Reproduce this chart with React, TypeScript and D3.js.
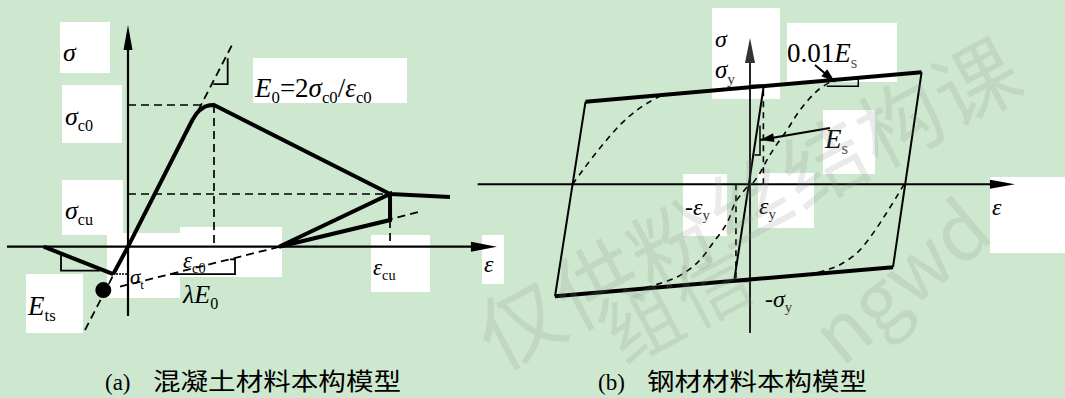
import React from "react";
import * as d3 from "d3";

type P = [number, number];

const W = 1065;
const H = 398;

// ---------- (a) concrete model: strain in εc0 units, stress in σc0 units ----------
const concreteEnvelope: P[] = [
  [-0.171, -0.193], [0, 0], [0.748, 0.894], [0.798, 0.941], [0.837, 0.965],
  [0.895, 0.988], [0.95, 0.998], [1, 1], [3.047, 0.372], [3.744, 0.35],
];
const concreteTension: P[] = [[-0.981, 0], [-0.171, -0.193]];
const concreteUnloading: P[] = [[1.756, 0], [3.047, 0.372], [3.047, 0.188]];
const concreteInitialTangent: P[] = [[-0.5, -0.588], [1.221, 1.437]];
const concreteReloadLine: P[] = [[-0.093, -0.282], [3.395, 0.247]];
const concreteGuides: P[][] = [
  [[0, 1], [1, 1]],
  [[1, 1], [1, 0]],
  [[0, 0.372], [3.047, 0.372]],
  [[3.047, 0.188], [3.047, 0]],
];
const concreteE0Tick: P[] = [[0.992, 1.148], [1.159, 1.148], [1.159, 1.33]];
const concreteLambdaTick: P[] = [[0.488, -0.193], [1.244, -0.193], [1.244, -0.089], [1.186, -0.089]];
const concreteEtsTick: P[] = [[-0.779, -0.058], [-0.779, -0.169], [-0.326, -0.169]];
const concreteSigmaT: P[] = [[-0.171, -0.193], [0, -0.193]];
const concreteCrackPoint: P = [-0.287, -0.306];
const concreteAxisX: [number, number] = [-1.407, 4.29];
const concreteAxisY: [number, number] = [-0.489, 1.565];

// ---------- (b) steel model: strain in εy units, stress in σy units ----------
const steelTop: P[] = [[-12.65, 0.842], [13.2, 1.142]];
const steelBottom: P[] = [[-15.0, -1.142], [11.0, -0.845]];
const steelSides: P[][] = [
  [[13.2, 1.142], [11.0, -0.845]],
  [[-15.0, -1.142], [-12.65, 0.842]],
];
const steelElastic: P[] = [[-1.215, -0.982], [1.054, 1.0]];
const steelYieldGuides: P[][] = [
  [[1.03, 0], [1.03, 0.96]],
  [[-1.08, 0], [-1.08, -0.98]],
];
const steelYieldTicks: P[][] = [
  [[0, 1.01], [0.95, 1.01]],
  [[-1.2, -0.99], [0, -0.99]],
];
const steelCurveA: P[] = [
  [-13.65, 0], [-12.85, 0.146], [-11.54, 0.37], [-10.0, 0.605], [-8.69, 0.758], [-7.69, 0.843], [-6.77, 0.911],
];
const steelCurveB: P[] = [
  [-0.23, -0.028], [-0.54, -0.079], [-1.15, -0.191], [-1.77, -0.395], [-2.85, -0.599],
  [-4.08, -0.803], [-5.62, -0.946], [-7.31, -1.027], [-8.08, -1.054],
];
const steelCurveC: P[] = [
  [0.23, 0.013], [0.77, 0.115], [1.31, 0.248], [1.92, 0.38], [2.85, 0.553], [3.85, 0.757], [5.23, 0.961], [6.31, 1.053],
];
const steelCurveD: P[] = [
  [11.85, 0], [11.4, -0.1], [10.51, -0.29], [9.46, -0.5], [8.23, -0.7], [6.92, -0.82], [6.0, -0.87], [5.0, -0.91],
];
const steelEsTick: P[] = [[0.346, 0.299], [0.769, 0.299], [0.769, 0.6]];
const steelHardTick: P[] = [[5.9, 1.0], [8.33, 1.0], [8.33, 1.08]];
const steelEsArrow: [P, P] = [[6.15, 0.574], [0.77, 0.452]];
const steelHardArrow: [P, P] = [[5.0, 1.216], [6.54, 1.046]];
const steelAxisX: [number, number] = [-20.95, 20.38];
const steelAxisY: [number, number] = [-1.516, 1.491];

// watermark text
const watermarkMain: string[] = Array.from("仅供粉丝结构课");
const watermarkSecond: string[] = Array.from("组信");
const watermarkLatin = "ngwd";

// ---------- scales ----------
const xL = d3.scaleLinear().domain([0, 1]).range([128, 214]);
const yL = d3.scaleLinear().domain([0, 1]).range([246.7, 105]);
const xR = d3.scaleLinear().domain([0, 1]).range([750, 763]);
const yR = d3.scaleLinear().domain([0, 1]).range([184.3, 86.2]);

const lineL = d3.line<P>().x((d) => xL(d[0])).y((d) => yL(d[1]));
const lineR = d3.line<P>().x((d) => xR(d[0])).y((d) => yR(d[1]));
const curveR = d3
  .line<P>()
  .x((d) => xR(d[0]))
  .y((d) => yR(d[1]))
  .curve(d3.curveCatmullRom.alpha(0.5));

// filled arrow head with its tip at (tx, ty), pointing away from (fx, fy)
function head(tx: number, ty: number, fx: number, fy: number, len: number, half: number) {
  const dx = tx - fx;
  const dy = ty - fy;
  const n = Math.hypot(dx, dy) || 1;
  const ux = dx / n;
  const uy = dy / n;
  const bx = tx - ux * len;
  const by = ty - uy * len;
  return `${tx},${ty} ${bx - uy * half},${by + ux * half} ${bx + uy * half},${by - ux * half}`;
}

type Run = [string, string?];
const SERIF = "Liberation Serif, Times New Roman, serif";
const CJK = "Noto Sans CJK SC, sans-serif";

function Rich({ x, y, size, runs, subFill = "#000" }: { x: number; y: number; size: number; runs: Run[]; subFill?: string }) {
  const shift = size * 0.22;
  let inSub = false;
  return (
    <text x={x} y={y} style={{ fontFamily: SERIF }} fontSize={size} fill="#000">
      {runs.map(([t, k], i) => {
        const sub = k === "s";
        let dy = 0;
        if (sub && !inSub) dy = shift;
        if (!sub && inSub) dy = -shift;
        inSub = sub;
        return (
          <tspan
            key={i}
            dy={dy}
            fontSize={sub ? size * 0.62 : size}
            fontStyle={k === "i" ? "italic" : "normal"}
            fill={sub ? subFill : "#000"}
          >
            {t}
          </tspan>
        );
      })}
    </text>
  );
}

function Box({ x, y, w, h }: { x: number; y: number; w: number; h: number }) {
  return <rect x={x} y={y} width={w} height={h} fill="#fff" />;
}

export default function App() {
  const thick = 4;
  const dashL = "8,5";
  const dashR = "6,5";

  // axis ends in pixels
  const lx0 = xL(concreteAxisX[0]);
  const lx1 = xL(concreteAxisX[1]);
  const ly0 = yL(concreteAxisY[0]);
  const ly1 = yL(concreteAxisY[1]);
  const rx0 = xR(steelAxisX[0]);
  const rx1 = xR(steelAxisX[1]);
  const ry0 = yR(steelAxisY[0]);
  const ry1 = yR(steelAxisY[1]);

  const esFrom = [xR(steelEsArrow[0][0]), yR(steelEsArrow[0][1])];
  const esTo = [xR(steelEsArrow[1][0]), yR(steelEsArrow[1][1])];
  const hdFrom = [xR(steelHardArrow[0][0]), yR(steelHardArrow[0][1])];
  const hdTo = [xR(steelHardArrow[1][0]), yR(steelHardArrow[1][1])];

  // watermark glyphs laid along a rising diagonal
  const wmAngle = -28;
  const wmStep = 86;
  const wmCos = Math.cos((wmAngle * Math.PI) / 180);
  const wmSin = Math.sin((wmAngle * Math.PI) / 180);

  return (
    <div style={{ position: "absolute", left: 0, top: 0 }}>
      <svg width={W} height={H} viewBox={`0 0 ${W} ${H}`} style={{ display: "block" }}>
        <rect x={0} y={0} width={W} height={H} fill="#cee8cf" />

        {/* label backgrounds, panel (a) */}
        <Box x={60} y={22} w={50} h={51} />
        <Box x={62} y={85} w={60} h={58} />
        <Box x={62} y={180} w={61} h={55} />
        <Box x={107} y={233} w={73} h={65} />
        <Box x={180} y={227} w={102} h={50} />
        <Box x={253} y={58} w={154} h={45} />
        <Box x={371} y={235} w={59} h={57} />
        <Box x={26} y={274} w={57} h={59} />
        <Box x={482} y={235} w={22} h={49} />

        {/* label backgrounds, panel (b) */}
        <Box x={712} y={8} w={68} h={91} />
        <Box x={787} y={23} w={110} h={59} />
        <Box x={823} y={110} w={52} h={64} />
        <Box x={683} y={174} w={44} h={62} />
        <Box x={758} y={173} w={56} h={55} />
        <Box x={990} y={177} w={75} h={76} />

        {/* ---------- panel (a) ---------- */}
        <g fill="none" stroke="#000">
          <line x1={lx0} y1={yL(0)} x2={lx1 - 20} y2={yL(0)} strokeWidth={2.2} />
          <line x1={xL(0)} y1={ly0} x2={xL(0)} y2={ly1 + 20} strokeWidth={2.2} />

          {concreteGuides.map((g, i) => (
            <path key={i} d={lineL(g) ?? ""} strokeWidth={1.7} strokeDasharray={dashL} />
          ))}
          <path d={lineL(concreteInitialTangent) ?? ""} strokeWidth={1.8} strokeDasharray={dashL} />
          <path d={lineL(concreteReloadLine) ?? ""} strokeWidth={1.8} strokeDasharray={dashL} />

          <path d={lineL(concreteEnvelope) ?? ""} strokeWidth={thick} strokeLinejoin="round" />
          <path d={lineL(concreteTension) ?? ""} strokeWidth={thick} />
          <path d={(lineL(concreteUnloading) ?? "") + "Z"} strokeWidth={thick} strokeLinejoin="miter" />

          <path d={lineL(concreteE0Tick) ?? ""} strokeWidth={1.8} />
          <path d={lineL(concreteLambdaTick) ?? ""} strokeWidth={1.8} />
          <path d={lineL(concreteEtsTick) ?? ""} strokeWidth={1.8} />
          <path d={lineL(concreteSigmaT) ?? ""} strokeWidth={2} strokeDasharray="1.5,1.5" />
        </g>
        <g fill="#000">
          <polygon points={head(lx1, yL(0), lx0, yL(0), 26, 5)} />
          <polygon points={head(xL(0), ly1, xL(0), ly0, 25, 4.5)} />
          <circle cx={xL(concreteCrackPoint[0])} cy={yL(concreteCrackPoint[1])} r={8} />
        </g>

        <Rich x={63} y={61} size={26} runs={[["σ", "i"]]} />
        <Rich x={65} y={125} size={26} runs={[["σ", "i"], ["c0", "s"]]} />
        <Rich x={65} y={219} size={26} runs={[["σ", "i"], ["cu", "s"]]} />
        <Rich
          x={255}
          y={97}
          size={27}
          runs={[["E", "i"], ["0", "s"], ["=2"], ["σ", "i"], ["c0", "s"], ["/"], ["ε", "i"], ["c0", "s"]]}
        />
        <Rich x={183} y={268} size={23} runs={[["ε", "i"], ["c0", "s"]]} />
        <Rich x={183} y={303} size={26} runs={[["λ", "i"], ["E", "i"], ["0", "s"]]} />
        <Rich x={373} y={275} size={23} runs={[["ε", "i"], ["cu", "s"]]} />
        <Rich x={130} y={284} size={21} runs={[["σ", "i"], ["t", "s"]]} />
        <Rich x={28} y={315} size={27} runs={[["E", "i"], ["ts", "s"]]} />
        <Rich x={484} y={272} size={24} runs={[["ε", "i"]]} />

        {/* ---------- panel (b) ---------- */}
        <g fill="none" stroke="#000">
          <line x1={rx0} y1={yR(0)} x2={rx1 - 20} y2={yR(0)} strokeWidth={2} />
          <line x1={xR(0)} y1={ry0} x2={xR(0)} y2={ry1 + 20} strokeWidth={2} stroke="#222" />

          {[steelCurveA, steelCurveB, steelCurveC, steelCurveD].map((c, i) => (
            <path key={i} d={curveR(c) ?? ""} strokeWidth={1.6} strokeDasharray={dashR} />
          ))}
          {steelYieldGuides.map((g, i) => (
            <path key={i} d={lineR(g) ?? ""} strokeWidth={1.6} strokeDasharray={dashR} />
          ))}
          {steelYieldTicks.map((g, i) => (
            <path key={i} d={lineR(g) ?? ""} strokeWidth={2} stroke="#777" />
          ))}

          <path d={lineR(steelTop) ?? ""} strokeWidth={thick} />
          <path d={lineR(steelBottom) ?? ""} strokeWidth={thick} />
          {steelSides.map((s, i) => (
            <path key={i} d={lineR(s) ?? ""} strokeWidth={2} />
          ))}
          <path d={lineR(steelElastic) ?? ""} strokeWidth={2} />

          <path d={lineR(steelEsTick) ?? ""} strokeWidth={1.5} />
          <path d={lineR(steelHardTick) ?? ""} strokeWidth={1.5} />
          <line x1={esFrom[0]} y1={esFrom[1]} x2={esTo[0]} y2={esTo[1]} strokeWidth={2} />
          <line x1={hdFrom[0]} y1={hdFrom[1]} x2={hdTo[0]} y2={hdTo[1]} strokeWidth={2} />
        </g>
        <g fill="#000">
          <polygon points={head(rx1, yR(0), rx0, yR(0), 25, 4.5)} />
          <polygon points={head(xR(0), ry1, xR(0), ry0, 25, 5)} fill="#333" />
          <polygon points={head(esTo[0], esTo[1], esFrom[0], esFrom[1], 14, 4.5)} />
          <polygon points={head(hdTo[0], hdTo[1], hdFrom[0], hdFrom[1], 14, 4.5)} />
        </g>

        <Rich x={715} y={47} size={24} runs={[["σ", "i"]]} />
        <Rich x={715} y={78} size={25} runs={[["σ", "i"], ["y", "s"]]} subFill="#333" />
        <Rich x={787} y={62} size={27} runs={[["0.01"], ["E", "i"], ["s", "s"]]} subFill="#555" />
        <Rich x={825} y={148} size={27} runs={[["E", "i"], ["s", "s"]]} subFill="#555" />
        <Rich x={685} y={215} size={24} runs={[["-"], ["ε", "i"], ["y", "s"]]} subFill="#333" />
        <Rich x={759} y={214} size={24} runs={[["ε", "i"], ["y", "s"]]} subFill="#333" />
        <Rich x={765} y={307} size={24} runs={[["-"], ["σ", "i"], ["y", "s"]]} subFill="#333" />
        <Rich x={992} y={215} size={24} runs={[["ε", "i"]]} />

        {/* captions */}
        <text x={105} y={390} style={{ fontFamily: SERIF }} fontSize={23}>(a)</text>
        <text x={153} y={390} style={{ fontFamily: CJK }} fontSize={24} textLength={248} lengthAdjust="spacingAndGlyphs">
          混凝土材料本构模型
        </text>
        <text x={598} y={390} style={{ fontFamily: SERIF }} fontSize={23}>(b)</text>
        <text x={647} y={390} style={{ fontFamily: CJK }} fontSize={24} textLength={220} lengthAdjust="spacingAndGlyphs">
          钢材材料本构模型
        </text>

        {/* watermark */}
        <g fill="#8a8a8a" fillOpacity={0.18} style={{ fontFamily: CJK }} pointerEvents="none" textAnchor="middle" dominantBaseline="central">
          {watermarkMain.map((c, i) => (
            <text
              key={i}
              fontSize={84}
              transform={`translate(${518 + i * wmStep * wmCos},${320 + i * wmStep * wmSin}) rotate(${wmAngle})`}
            >
              {c}
            </text>
          ))}
          {watermarkSecond.map((c, i) => (
            <text
              key={`s${i}`}
              fontSize={74}
              transform={`translate(${642 + i * 78 * wmCos},${320 + i * 78 * wmSin}) rotate(${wmAngle})`}
            >
              {c}
            </text>
          ))}
          <text fontSize={78} textAnchor="start" dominantBaseline="auto" transform="translate(842,368) rotate(-40)">
            {watermarkLatin}
          </text>
        </g>
      </svg>
    </div>
  );
}
